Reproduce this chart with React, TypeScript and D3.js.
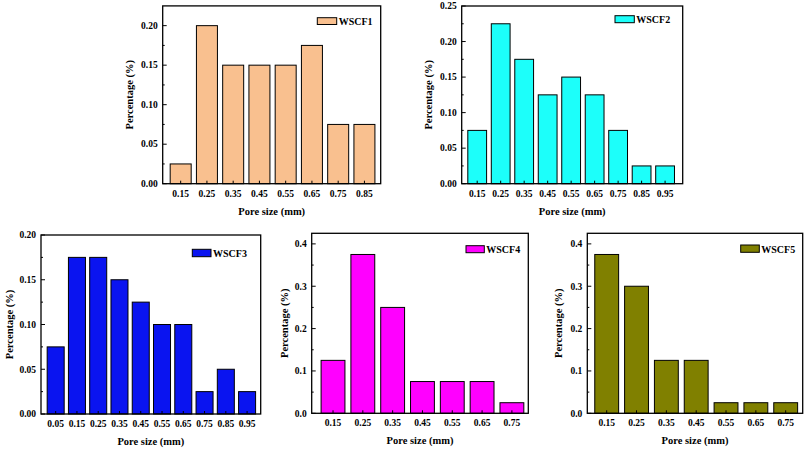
import React from "react";
import * as d3 from "d3";

const sizes1 = [0.15, 0.25, 0.35, 0.45, 0.55, 0.65, 0.75, 0.85];
const vals1 = [0.025, 0.2, 0.15, 0.15, 0.15, 0.175, 0.075, 0.075];
const sizes2 = [0.15, 0.25, 0.35, 0.45, 0.55, 0.65, 0.75, 0.85, 0.95];
const vals2 = [0.075, 0.225, 0.175, 0.125, 0.15, 0.125, 0.075, 0.025, 0.025];
const sizes3 = [0.05, 0.15, 0.25, 0.35, 0.45, 0.55, 0.65, 0.75, 0.85, 0.95];
const vals3 = [0.075, 0.175, 0.175, 0.15, 0.125, 0.1, 0.1, 0.025, 0.05, 0.025];
const sizes4 = [0.15, 0.25, 0.35, 0.45, 0.55, 0.65, 0.75];
const vals4 = [0.125, 0.375, 0.25, 0.075, 0.075, 0.075, 0.025];
const sizes5 = [0.15, 0.25, 0.35, 0.45, 0.55, 0.65, 0.75];
const vals5 = [0.375, 0.3, 0.125, 0.125, 0.025, 0.025, 0.025];

const names = ["WSCF1", "WSCF2", "WSCF3", "WSCF4", "WSCF5"];
const colors = ["#F9C08F", "#1CFFFA", "#0A14F0", "#FF00FF", "#808000"];
const yTicksSmall = [0, 0.05, 0.1, 0.15, 0.2];
const yTicksMid = [0, 0.05, 0.1, 0.15, 0.2, 0.25];
const yTicksLarge = [0, 0.1, 0.2, 0.3, 0.4];

const FONT = "'Liberation Serif', 'Times New Roman', serif";

type PanelCfg = {
  sizes: number[];
  vals: number[];
  name: string;
  color: string;
  left: number;
  right: number;
  top: number;
  bottom: number;
  xDomain: [number, number];
  yMax: number;
  yTicks: number[];
  yFmt: string;
  yLabelX: number;
  legend: [number, number, number, number];
};

const panels: PanelCfg[] = [
  { sizes: sizes1, vals: vals1, name: names[0], color: colors[0], left: 162.7, right: 380.7, top: 5.9, bottom: 183.7, xDomain: [0.0815, 0.912], yMax: 0.225, yTicks: yTicksSmall, yFmt: ".2f", yLabelX: 129, legend: [317.3, 17.7, 336.7, 24.5] },
  { sizes: sizes2, vals: vals2, name: names[1], color: colors[1], left: 461.7, right: 682.7, top: 6, bottom: 183.7, xDomain: [0.084, 1.025], yMax: 0.25, yTicks: yTicksMid, yFmt: ".2f", yLabelX: 428, legend: [615, 15.7, 634.3, 22.7] },
  { sizes: sizes3, vals: vals3, name: names[2], color: colors[2], left: 41, right: 260.7, top: 235, bottom: 414, xDomain: [-0.019, 1.014], yMax: 0.2, yTicks: yTicksSmall, yFmt: ".2f", yLabelX: 9, legend: [192.3, 249.3, 211, 256.7] },
  { sizes: sizes4, vals: vals4, name: names[3], color: colors[3], left: 311.7, right: 528.3, top: 233.3, bottom: 413.3, xDomain: [0.0785, 0.805], yMax: 0.425, yTicks: yTicksLarge, yFmt: ".1f", yLabelX: 284, legend: [466, 245.7, 484.3, 252.7] },
  { sizes: sizes5, vals: vals5, name: names[4], color: colors[4], left: 587.3, right: 802.7, top: 233.3, bottom: 413.3, xDomain: [0.085, 0.807], yMax: 0.425, yTicks: yTicksLarge, yFmt: ".1f", yLabelX: 558, legend: [740.7, 245, 759.3, 252.3] },
];

function Panel({ p }: { p: PanelCfg }) {
  const x = d3.scaleLinear().domain(p.xDomain).range([p.left, p.right]);
  const y = d3.scaleLinear().domain([0, p.yMax]).range([p.bottom, p.top]);
  const bw = x(0.08) - x(0);
  const fmt = d3.format(p.yFmt);
  const step = p.yTicks[1] - p.yTicks[0];
  const minors = p.yTicks.map((t) => t + step / 2).filter((t) => t < p.yMax);
  const cy = (p.top + p.bottom) / 2;
  const cx = (p.left + p.right) / 2;
  return (
    <g>
      {p.sizes.map((s, i) => (
        <rect
          key={i}
          x={x(s) - bw / 2}
          y={y(p.vals[i])}
          width={bw}
          height={y(0) - y(p.vals[i])}
          fill={p.color}
          stroke="#000"
          strokeWidth={1}
        />
      ))}
      {p.sizes.map((s, i) => (
        <line key={"xt" + i} x1={x(s)} x2={x(s)} y1={p.bottom} y2={p.bottom - 3} stroke="#000" strokeWidth={1} />
      ))}
      {p.yTicks.map((t, i) => (
        <line key={"yt" + i} x1={p.left} x2={p.left + 4} y1={y(t)} y2={y(t)} stroke="#000" strokeWidth={1} />
      ))}
      {minors.map((t, i) => (
        <line key={"ym" + i} x1={p.left} x2={p.left + 2} y1={y(t)} y2={y(t)} stroke="#000" strokeWidth={1} />
      ))}
      <rect x={p.left} y={p.top} width={p.right - p.left} height={p.bottom - p.top} fill="none" stroke="#000" strokeWidth={1.3} />
      {p.sizes.map((s, i) => (
        <text key={"xl" + i} x={x(s)} y={p.bottom + 13} textAnchor="middle" fontSize={9.5} fontWeight="bold" fontFamily={FONT} fill="#000">
          {s.toFixed(2)}
        </text>
      ))}
      {p.yTicks.map((t, i) => (
        <text key={"yl" + i} x={p.left - 5} y={y(t) + 3.3} textAnchor="end" fontSize={9.5} fontWeight="bold" fontFamily={FONT} fill="#000">
          {fmt(t)}
        </text>
      ))}
      <text x={cx} y={p.bottom + 31} textAnchor="middle" fontSize={10.5} fontWeight="bold" fontFamily={FONT} fill="#000">
        Pore size (mm)
      </text>
      <text
        transform={`translate(${p.yLabelX + 3.5},${cy}) rotate(-90)`}
        textAnchor="middle"
        fontSize={10.5}
        fontWeight="bold"
        fontFamily={FONT}
        fill="#000"
      >
        Percentage (%)
      </text>
      <rect
        x={p.legend[0]}
        y={p.legend[1]}
        width={p.legend[2] - p.legend[0]}
        height={p.legend[3] - p.legend[1]}
        fill={p.color}
        stroke="#000"
        strokeWidth={1}
      />
      <text x={p.legend[2] + 2} y={p.legend[3] + 0.5} fontSize={10} fontWeight="bold" fontFamily={FONT} fill="#000">
        {p.name}
      </text>
    </g>
  );
}

export default function App() {
  return (
    <svg
      width={812}
      height={449}
      style={{ position: "absolute", left: 0, top: 0, background: "#fff" }}
    >
      <rect x={0} y={0} width={812} height={449} fill="#fff" />
      {panels.map((p, i) => (
        <Panel key={i} p={p} />
      ))}
    </svg>
  );
}
